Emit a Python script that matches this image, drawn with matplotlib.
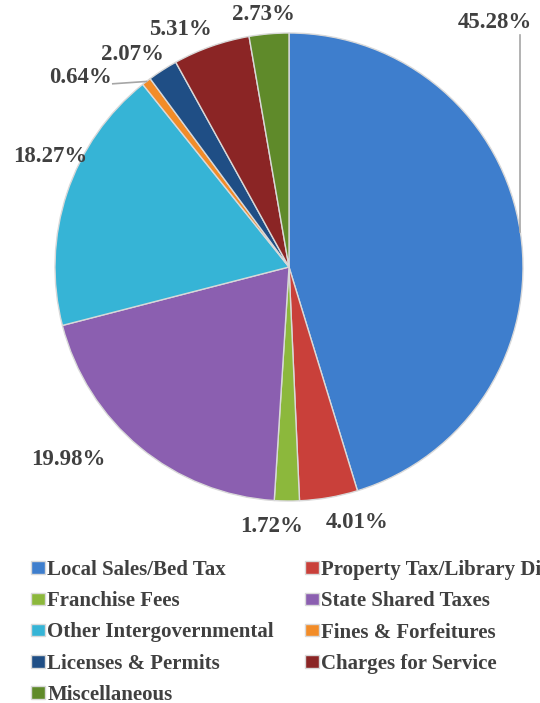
import matplotlib
matplotlib.use("Agg")
import matplotlib.pyplot as plt
import numpy as np

categories = ["Local Sales/Bed Tax", "Property Tax/Library District", "Franchise Fees",
              "State Shared Taxes", "Other Intergovernmental", "Fines & Forfeitures",
              "Licenses & Permits", "Charges for Service", "Miscellaneous"]
shares = [45.28, 4.01, 1.72, 19.98, 18.27, 0.64, 2.07, 5.31, 2.73]
pct_labels = ["45.28%", "4.01%", "1.72%", "19.98%", "18.27%", "0.64%", "2.07%", "5.31%", "2.73%"]

colors = ["#3E7ECD", "#C9403A", "#8CB83C", "#8B5FB0", "#36B4D6",
          "#F28C28", "#1F4E85", "#8B2525", "#5F8A2A"]
# label placement (axes data units, radius = 1)
label_pos = [(0.880, 1.043), (0.291, -1.094), (-0.073, -1.107), (-0.944, -0.821),
             (-1.021, 0.474), (-0.893, 0.808), (-0.667, 0.906), (-0.466, 1.017),
             (-0.111, 1.080)]

W, H = 540, 703
fig = plt.figure(figsize=(W / 100, H / 100), dpi=100)
cx, cy, R = 289, 267, 234
k = 1.3
aw = 2 * k * R
ax = fig.add_axes([(cx - aw / 2) / W, (H - cy - aw / 2) / H, aw / W, aw / H])

wedges, _ = ax.pie(shares, colors=colors, startangle=90, counterclock=False,
                   radius=1.0,
                   wedgeprops=dict(edgecolor="#d9d9d9", linewidth=1.0))
ax.set_xlim(-k, k)
ax.set_ylim(-k, k)
ax.axis("off")

txt_kw = dict(fontfamily="Liberation Serif", fontweight="bold", fontsize=16.5,
              color="#404040", ha="center", va="center")
for i, (w, lab) in enumerate(zip(wedges, pct_labels)):
    x, y = label_pos[i]
    ax.text(x, y, lab, **txt_kw)
    mid = np.deg2rad((w.theta1 + w.theta2) / 2)
    ex, ey = np.cos(mid), np.sin(mid)
    if i == 0:
        ax.plot([ex, ex], [ey, y - 0.05], color="#a6a6a6", lw=1.2)
    if i == 5:
        ax.plot([x + 0.14, ex], [y - 0.025, ey], color="#a6a6a6", lw=1.2)

order = [0, 2, 4, 6, 8, 1, 3, 5, 7]
leg = fig.legend([wedges[i] for i in order], [categories[i] for i in order],
                 ncol=2, loc="upper left", bbox_to_anchor=(31 / W, 1 - 560 / H),
                 frameon=False, borderpad=0, borderaxespad=0,
                 handlelength=0.67, handleheight=0.53, handletextpad=0.12,
                 columnspacing=1.48, labelspacing=0.54,
                 prop=dict(family="Liberation Serif", weight="bold", size=15))
for t in leg.get_texts():
    t.set_color("#404040")
for h in leg.legend_handles:
    h.set_edgecolor("#d9d9d9")

fig.savefig("out.png", dpi=100)
